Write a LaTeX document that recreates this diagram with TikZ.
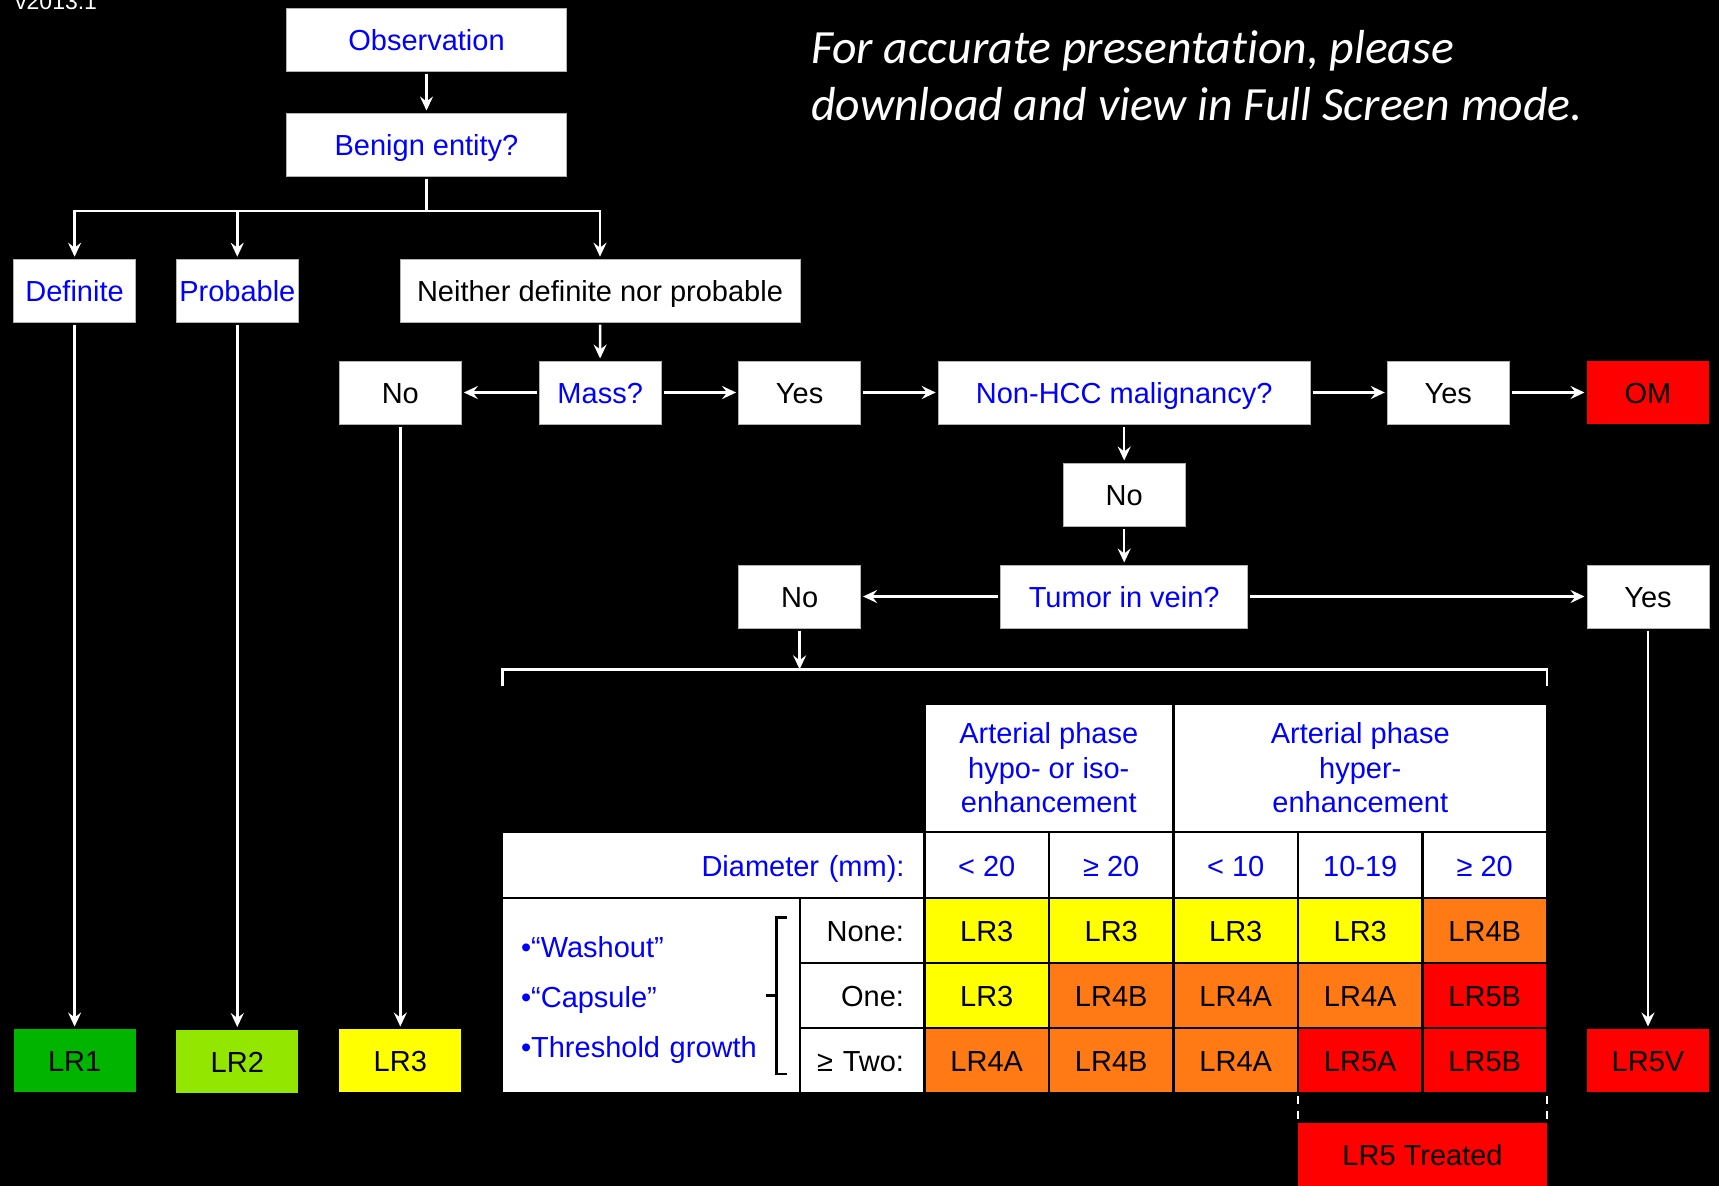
\documentclass[tikz,border=0pt]{standalone}
\usepackage{fontspec}
\setmainfont{Liberation Sans}
\newfontfamily\calib{Carlito}[Ligatures=NoCommon]
\usetikzlibrary{arrows.meta}
\definecolor{qblue}{RGB}{0,0,255}
\definecolor{lrone}{RGB}{0,180,0}
\definecolor{lrtwo}{RGB}{146,230,0}
\definecolor{lryel}{RGB}{255,255,0}
\definecolor{lrorg}{RGB}{255,122,20}
\definecolor{lrred}{RGB}{255,0,0}
\newcommand\bxf{\fontsize{29}{33.5}\selectfont}
\begin{document}
\begin{tikzpicture}[x=1pt,y=-1pt,
 box/.style={draw=gray!60, line width=0.8pt, fill=white, minimum height=63pt, minimum width=122pt, inner sep=0pt, outer sep=2.5pt, font=\bxf, text height=22.5pt, text depth=0pt},
 qbox/.style={box, text=qblue},
 abox/.style={box, text=black},
 lrbox/.style={box, draw=none, text=black},
 arr/.style={draw=white, line width=2.4pt, -{Stealth[length=14pt,width=13pt,inset=5pt]}},
 wline/.style={draw=white, line width=2.4pt},
 cell/.style={draw=black, line width=2.6pt, fill=white, inner sep=0pt, outer sep=0pt, font=\bxf},
 gcell/.style={cell, minimum width=124.5pt, minimum height=65pt, text height=22.5pt, text depth=0pt, text=black},
 lcell/.style={cell, minimum width=124.5pt, minimum height=65pt, text width=124.5pt, inner xsep=0pt, align=right, text height=22.5pt, text depth=0pt, text=black},
 dcell/.style={gcell, minimum height=66pt, text=qblue},
 note/.style={anchor=base west, inner sep=0pt, text=white, font=\calib\itshape\fontsize{47.7}{56}\selectfont},
]
\fill[black] (0,0) rectangle (1719,1186);
\useasboundingbox (0,0) rectangle (1719,1186);

% top texts
\node[anchor=base west, inner sep=0pt, text=white, font=\fontsize{23}{26}\selectfont] (ver) at (15,9.5) {v2013.1};
\node[note] (note1) at (811,63.3) {For accurate presentat\kern0pt ion, please};
\node[note] (note2) at (811,120) {download and view in Full Screen mode.};

% flow boxes
\node[qbox, minimum width=280pt] (obs) at (426.5,39.5) {Observation};
\node[qbox, minimum width=280pt] (ben) at (426.5,144.5) {Benign entity?};
\node[qbox] (def) at (74.6,290.7) {Definite};
\node[qbox] (prob) at (237.3,290.7) {Probable};
\node[abox, minimum width=400pt] (nei) at (600,290.7) {Neither definite nor probable};
\node[abox] (no1) at (400.3,392.5) {No};
\node[qbox] (mass) at (600.2,392.5) {Mass?};
\node[abox] (yes1) at (799.6,392.5) {Yes};
\node[qbox, minimum width=372pt] (nonhcc) at (1124.2,392.5) {Non-HCC malignancy?};
\node[abox] (yes2) at (1448.3,392.5) {Yes};
\node[lrbox, fill=lrred] (om) at (1648,392.5) {OM};
\node[abox] (no2) at (1124.2,494.5) {No};
\node[qbox, minimum width=247pt] (tiv) at (1124.2,596.5) {Tumor in vein?};
\node[abox] (no3) at (799.6,596.5) {No};
\node[abox] (yes3) at (1648,596.5) {Yes};

\node[lrbox, fill=lrone] (lr1) at (74.6,1060.5) {LR1};
\node[lrbox, fill=lrtwo] (lr2) at (237.3,1061) {LR2};
\node[lrbox, fill=lryel] (lr3) at (400.3,1060.5) {LR3};
\node[lrbox, fill=lrred] (lr5v) at (1648,1060.5) {LR5V};

% connectors
\coordinate (brn) at (426.5,210.7);
\draw[arr] (obs) -- (ben);
\draw[wline] (ben.south) -- (brn);
\draw[arr] (brn) -| (def.north);
\draw[arr] (brn) -| (prob.north);
\draw[arr] (brn) -| (nei.north);
\draw[arr] (nei) -- (mass);
\draw[arr] (mass) -- (no1);
\draw[arr] (mass) -- (yes1);
\draw[arr] (yes1) -- (nonhcc);
\draw[arr] (nonhcc) -- (yes2);
\draw[arr] (yes2) -- (om);
\draw[arr] (nonhcc) -- (no2);
\draw[arr] (no2) -- (tiv);
\draw[arr] (tiv) -- (no3);
\draw[arr] (tiv) -- (yes3);
\draw[arr] (def) -- (lr1);
\draw[arr] (prob) -- (lr2);
\draw[arr] (no1) -- (lr3);
\draw[arr] (yes3) -- (lr5v);

% bracket over table
\coordinate (brk) at (799.6,669.3);
\draw[wline] (502.3,686) -- (502.3,669.3) -- (1546.7,669.3) -- (1546.7,686);
\draw[arr] (no3) -- (brk);

% table header
\node[cell, minimum width=249pt, minimum height=128pt, align=center, text=qblue, font=\fontsize{29}{34.5}\selectfont] (hypo) at (1048.75,768) {Arterial phase\\hypo- or iso-\\enhancement};
\node[cell, minimum width=373.5pt, minimum height=128pt, align=center, text=qblue, font=\fontsize{29}{34.5}\selectfont] (hyper) at (1360.25,768) {Arterial phase\\hyper-\\enhancement};
\node[cell, minimum width=422.5pt, minimum height=66pt, text width=382.5pt, inner xsep=20pt, align=right, text=qblue, text height=22.5pt, text depth=0pt] (diam) at (713.25,865) {Diameter (mm):};
\node[dcell] (d1) at (986.75,865) {< 20};
\node[dcell] (d2) at (1111.25,865) {≥ 20};
\node[dcell] (d3) at (1235.75,865) {< 10};
\node[dcell] (d4) at (1360.25,865) {10-19};
\node[dcell] (d5) at (1484.75,865) {≥ 20};

% left criteria cell
\node[cell, minimum width=298pt, minimum height=195pt, text width=260pt, inner xsep=19pt, align=left, text=qblue, font=\fontsize{29}{50}\selectfont] (crit) at (651,995.5) {\rule{0pt}{29pt}•“Washout”\\•“Capsule”\\•Threshold growth};
\draw[black, line width=2.6pt] (786.5,917.3) -- (776.3,917.3) -- (776.3,1074) -- (786.5,1074);
\draw[black, line width=2.6pt] (776.3,995.7) -- (766,995.7);

\node[lcell] (lnone) at (862.25,930.5) {None:\hspace*{20.5pt}};
\node[lcell] (lone) at (862.25,995.5) {One:\hspace*{20.5pt}};
\node[lcell] (ltwo) at (862.25,1060.5) {≥~Two:\hspace*{20.5pt}};

% grid
\node[gcell, fill=lryel] (c11) at (986.75,930.5) {LR3};
\node[gcell, fill=lryel] (c12) at (1111.25,930.5) {LR3};
\node[gcell, fill=lryel] (c13) at (1235.75,930.5) {LR3};
\node[gcell, fill=lryel] (c14) at (1360.25,930.5) {LR3};
\node[gcell, fill=lrorg] (c15) at (1484.75,930.5) {LR4B};
\node[gcell, fill=lryel] (c21) at (986.75,995.5) {LR3};
\node[gcell, fill=lrorg] (c22) at (1111.25,995.5) {LR4B};
\node[gcell, fill=lrorg] (c23) at (1235.75,995.5) {LR4A};
\node[gcell, fill=lrorg] (c24) at (1360.25,995.5) {LR4A};
\node[gcell, fill=lrred] (c25) at (1484.75,995.5) {LR5B};
\node[gcell, fill=lrorg] (c31) at (986.75,1060.5) {LR4A};
\node[gcell, fill=lrorg] (c32) at (1111.25,1060.5) {LR4B};
\node[gcell, fill=lrorg] (c33) at (1235.75,1060.5) {LR4A};
\node[gcell, fill=lrred] (c34) at (1360.25,1060.5) {LR5A};
\node[gcell, fill=lrred] (c35) at (1484.75,1060.5) {LR5B};

% LR5 treated
\node[lrbox, fill=lrred, minimum width=249pt] (lr5t) at (1422.5,1154.5) {LR5 Treated};
\draw[draw=white, line width=2pt, dash pattern=on 8pt off 7pt, shorten <=2.5pt] (c34.south west) -- (c34.south west |- lr5t.north);
\draw[draw=white, line width=2pt, dash pattern=on 8pt off 7pt, shorten <=2.5pt] (c35.south east) -- (c35.south east |- lr5t.north);
\end{tikzpicture}
\end{document}
